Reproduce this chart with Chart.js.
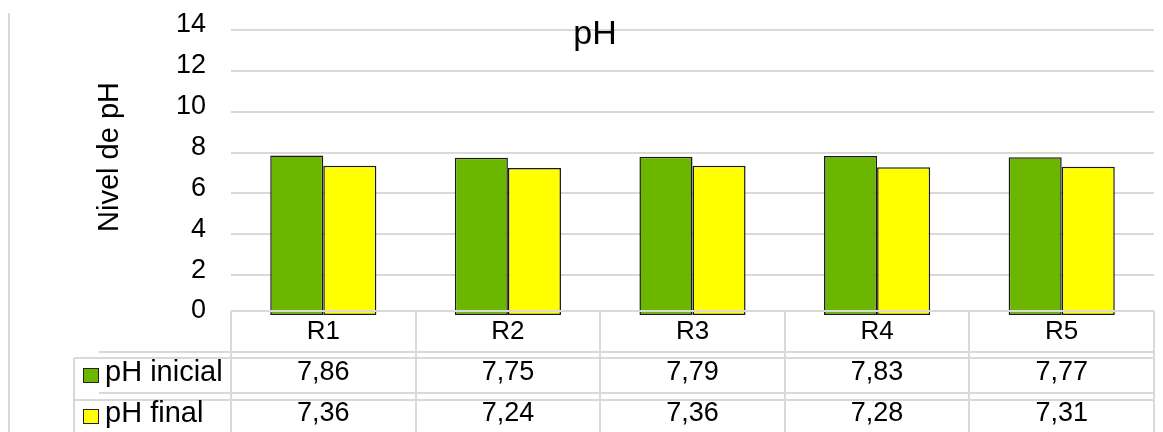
<!DOCTYPE html>
<html>
<head>
<meta charset="utf-8">
<script src="https://cdn.jsdelivr.net/npm/chart.js@4"></script>
<style>
  html, body { margin: 0; padding: 0; background: #fff; }
  #wrap { width: 1163px; height: 432px; position: relative; }
</style>
</head>
<body>
<div id="wrap"><canvas id="phChart" width="1163" height="432"></canvas></div>
<script>
const categories = ['R1', 'R2', 'R3', 'R4', 'R5'];
const phInicial = [7.86, 7.75, 7.79, 7.83, 7.77];
const phFinal = [7.36, 7.24, 7.36, 7.28, 7.31];
const seriesNames = ['pH inicial', 'pH final'];
const seriesColors = ['#6bb700', '#ffff00'];

const FONT = '"Liberation Sans", Arial, sans-serif';
const GRID = '#d9d9d9';

// data table under the plot, legend keys, axis title and chart title
const tablePlugin = {
    id: 'dataTable',
    afterDatasetsDraw(chart) {
        const ctx = chart.ctx;
        const x = chart.scales.x;
        const area = chart.chartArea;
        const colW = (area.right - area.left) / categories.length;
        const tableTop = area.bottom - 5;
        const bottom = 432;

        ctx.save();
        ctx.strokeStyle = GRID;
        ctx.lineWidth = 2;
        ctx.beginPath();
        ctx.moveTo(area.left, tableTop); ctx.lineTo(area.right, tableTop);
        for (let i = 0; i <= categories.length; i++) {
            const cx = Math.round(area.left + i * colW);
            ctx.moveTo(cx, tableTop); ctx.lineTo(cx, bottom);
        }
        ctx.moveTo(99, 352); ctx.lineTo(area.right, 352);
        ctx.moveTo(74, 358); ctx.lineTo(area.right, 358);
        ctx.moveTo(99, 393); ctx.lineTo(area.right, 393);
        ctx.moveTo(74, 400); ctx.lineTo(area.right, 400);
        ctx.moveTo(74, 358); ctx.lineTo(74, bottom);
        // outer frame on the left
        ctx.moveTo(9, 13); ctx.lineTo(9, bottom);
        ctx.stroke();

        const rows = [phInicial, phFinal];
        const rowY = [373, 414];
        ctx.fillStyle = '#000';
        ctx.font = '27px ' + FONT;
        ctx.textAlign = 'center';
        ctx.textBaseline = 'middle';
        rows.forEach((vals, r) => {
            vals.forEach((v, i) => {
                ctx.fillText(v.toFixed(2).replace('.', ','), x.getPixelForValue(i), rowY[r]);
            });
        });

        // legend keys in the first column
        rows.forEach((vals, r) => {
            const sy = rowY[r] - 5;
            ctx.fillStyle = seriesColors[r];
            ctx.fillRect(83, sy, 15, 14);
            ctx.strokeStyle = '#222';
            ctx.lineWidth = 1;
            ctx.strokeRect(83.5, sy + 0.5, 15, 14);
            ctx.fillStyle = '#000';
            ctx.textAlign = 'left';
            ctx.font = '29px ' + FONT;
            ctx.fillText(seriesNames[r], 105, rowY[r]);
        });

        // y axis title
        ctx.save();
        ctx.translate(110, 157);
        ctx.rotate(-Math.PI / 2);
        ctx.textAlign = 'center';
        ctx.font = '29px ' + FONT;
        ctx.fillText('Nivel de pH', 0, 0);
        ctx.restore();

        // chart title
        ctx.textAlign = 'center';
        ctx.font = '34px ' + FONT;
        ctx.fillText('pH', 595, 35);
        ctx.restore();
    }
};

new Chart(document.getElementById('phChart').getContext('2d'), {
    type: 'bar',
    data: {
        labels: categories,
        datasets: [
            {
                label: seriesNames[0],
                data: phInicial,
                backgroundColor: seriesColors[0],
                borderColor: '#1a1a1a',
                borderWidth: 1.5,
                borderSkipped: false
            },
            {
                label: seriesNames[1],
                data: phFinal,
                backgroundColor: seriesColors[1],
                borderColor: '#1a1a1a',
                borderWidth: 1.5,
                borderSkipped: false
            }
        ]
    },
    options: {
        responsive: false,
        animation: false,
        layout: { padding: { top: 30, right: 9, left: 0, bottom: 0 } },
        datasets: { bar: { categoryPercentage: 0.575, barPercentage: 1 } },
        plugins: {
            legend: { display: false },
            tooltip: { enabled: false }
        },
        scales: {
            x: {
                grid: { display: false, drawTicks: false },
                border: { display: false },
                ticks: { color: '#000', font: { family: FONT, size: 26 }, padding: 0 },
                afterFit: s => { s.height = 116; s.paddingLeft = 0; s.paddingRight = 0; }
            },
            y: {
                min: 0,
                max: 14,
                ticks: {
                    stepSize: 2,
                    color: '#000',
                    font: { family: FONT, size: 27 },
                    padding: 25,
                    labelOffset: -5
                },
                grid: {
                    drawTicks: false,
                    lineWidth: 2,
                    color: c => (c.tick && c.tick.value === 0) ? 'rgba(0,0,0,0)' : GRID
                },
                border: { display: false },
                afterFit: s => { s.width = 231; s.paddingTop = 0; s.paddingBottom = 0; }
            }
        }
    },
    plugins: [tablePlugin]
});
</script>
</body>
</html>
